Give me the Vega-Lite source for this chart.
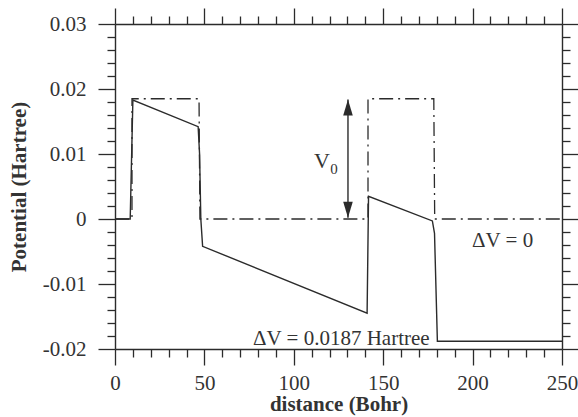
{
  "$schema": "https://vega.github.io/schema/vega-lite/v6.json",
  "width": 447,
  "height": 325,
  "autosize": "none",
  "padding": {"left": 115, "top": 24, "right": 16, "bottom": 68},
  "background": "white",
  "config": {
    "view": {"stroke": null},
    "axis": {
      "domainColor": "#2b2b2b",
      "domainWidth": 1.4,
      "tickColor": "#2b2b2b",
      "tickWidth": 1.3,
      "labelFont": "Liberation Serif",
      "labelFontSize": 21,
      "labelColor": "#333333",
      "titleFont": "Liberation Serif",
      "titleFontWeight": "bold",
      "titleFontSize": 21,
      "titleColor": "#333333",
      "grid": false
    }
  },
  "datasets": {
    "biased": [
      {"x": 0, "y": 0},
      {"x": 8.5, "y": 0},
      {"x": 10, "y": 0.0183},
      {"x": 46.5, "y": 0.0142},
      {"x": 47.3, "y": 0.01},
      {"x": 48, "y": 0},
      {"x": 49, "y": -0.0042},
      {"x": 141, "y": -0.0145},
      {"x": 141.8, "y": 0.0035},
      {"x": 177.5, "y": -0.0003},
      {"x": 178.7, "y": -0.0022},
      {"x": 180.3, "y": -0.0188},
      {"x": 250, "y": -0.0188}
    ],
    "flat": [
      {"x": 0, "y": 0},
      {"x": 9.5, "y": 0},
      {"x": 9.5, "y": 0.0185},
      {"x": 47, "y": 0.0185},
      {"x": 47.5, "y": 0},
      {"x": 141.5, "y": 0},
      {"x": 141.5, "y": 0.0185},
      {"x": 178.3, "y": 0.0185},
      {"x": 178.8, "y": 0},
      {"x": 250, "y": 0}
    ],
    "arrow": [{"x": 130.3, "y": 0.0002, "y2": 0.0184}],
    "heads": [
      {"x": 130.3, "y": 0.0184, "dir": "up"},
      {"x": 130.3, "y": 0.0002, "dir": "down"}
    ],
    "notes": [
      {"x": 77.2, "y": -0.0185, "text": "ΔV = 0.0187 Hartree"},
      {"x": 199.7, "y": -0.0034, "text": "ΔV = 0"}
    ],
    "vlabel": [{"x": 115.8, "y": 0.009, "text": "V"}],
    "vsub": [{"x": 122.5, "y": 0.0077, "text": "0"}]
  },
  "layer": [
    {
      "data": {"name": "biased"},
      "mark": {"type": "line", "color": "#2b2b2b", "strokeWidth": 1.4},
      "encoding": {
        "x": {
          "field": "x", "type": "quantitative",
          "scale": {"domain": [0, 250], "nice": false, "zero": false},
          "axis": {
            "orient": "bottom",
            "title": "distance  (Bohr)",
            "values": [0, 50, 100, 150, 200, 250],
            "ticks": true,
            "tickSize": 16,
            "labelAlign": "center",
            "labelPadding": 7,
            "titlePadding": 0
          }
        },
        "y": {
          "field": "y", "type": "quantitative",
          "scale": {"domain": [-0.02, 0.03], "nice": false, "zero": false},
          "axis": {
            "orient": "left",
            "title": "Potential  (Hartree)",
            "values": [-0.02, -0.01, 0, 0.01, 0.02, 0.03],
            "labelExpr": "round(datum.value*100) === 0 ? '0' : (datum.value < 0 ? '-' : '') + '0.0' + abs(round(datum.value*100))",
            "ticks": true,
            "tickSize": 17,
            "labelBaseline": "middle",
            "labelPadding": 12,
            "titlePadding": 13
          }
        }
      }
    },
    {
      "data": {"name": "flat"},
      "mark": {"type": "line", "color": "#2b2b2b", "strokeWidth": 1.3, "strokeDash": [14, 5, 2, 5]},
      "encoding": {
        "x": {
          "field": "x", "type": "quantitative",
          "axis": {
            "orient": "top",
            "title": null,
            "labels": false,
            "values": [0, 50, 100, 150, 200, 250],
            "ticks": true,
            "tickSize": 16
          }
        },
        "y": {
          "field": "y", "type": "quantitative",
          "axis": {
            "orient": "right",
            "title": null,
            "labels": false,
            "values": [-0.02, -0.01, 0, 0.01, 0.02, 0.03],
            "ticks": true,
            "tickSize": 17
          }
        }
      }
    },
    {
      "data": {"name": "arrow"},
      "mark": {"type": "rule", "color": "#2b2b2b", "strokeWidth": 1.4},
      "encoding": {
        "x": {
          "field": "x", "type": "quantitative",
          "axis": {
            "orient": "bottom",
            "title": null,
            "labels": false,
            "domain": false,
            "values": [10,20,30,40,60,70,80,90,110,120,130,140,160,170,180,190,210,220,230,240],
            "ticks": true,
            "tickSize": 8
          }
        },
        "y": {
          "field": "y", "type": "quantitative",
          "axis": {
            "orient": "left",
            "title": null,
            "labels": false,
            "domain": false,
            "values": [-0.018,-0.016,-0.014,-0.012,-0.008,-0.006,-0.004,-0.002,0.002,0.004,0.006,0.008,0.012,0.014,0.016,0.018,0.022,0.024,0.026,0.028],
            "ticks": true,
            "tickSize": 8
          }
        },
        "y2": {"field": "y2"}
      }
    },
    {
      "data": {"name": "heads"},
      "mark": {"type": "point", "filled": true, "color": "#2b2b2b", "opacity": 1, "size": 1024},
      "encoding": {
        "x": {
          "field": "x", "type": "quantitative",
          "axis": {
            "orient": "top",
            "title": null,
            "labels": false,
            "domain": false,
            "values": [10,20,30,40,60,70,80,90,110,120,130,140,160,170,180,190,210,220,230,240],
            "ticks": true,
            "tickSize": 8
          }
        },
        "y": {
          "field": "y", "type": "quantitative",
          "axis": {
            "orient": "right",
            "title": null,
            "labels": false,
            "domain": false,
            "values": [-0.018,-0.016,-0.014,-0.012,-0.008,-0.006,-0.004,-0.002,0.002,0.004,0.006,0.008,0.012,0.014,0.016,0.018,0.022,0.024,0.026,0.028],
            "ticks": true,
            "tickSize": 8
          }
        },
        "shape": {
          "field": "dir", "type": "nominal", "legend": null,
          "scale": {"domain": ["up", "down"], "range": ["M0,0L0.3,1L-0.3,1Z", "M0,0L0.3,-1L-0.3,-1Z"]}
        }
      }
    },
    {
      "data": {"name": "notes"},
      "mark": {"type": "text", "font": "Liberation Serif", "fontSize": 21, "color": "#333333", "align": "left", "baseline": "middle"},
      "encoding": {
        "x": {"field": "x", "type": "quantitative", "axis": null},
        "y": {"field": "y", "type": "quantitative", "axis": null},
        "text": {"field": "text"}
      }
    },
    {
      "data": {"name": "vlabel"},
      "mark": {"type": "text", "font": "Liberation Serif", "fontSize": 22, "color": "#333333", "align": "center", "baseline": "middle"},
      "encoding": {
        "x": {"field": "x", "type": "quantitative", "axis": null},
        "y": {"field": "y", "type": "quantitative", "axis": null},
        "text": {"field": "text"}
      }
    },
    {
      "data": {"name": "vsub"},
      "mark": {"type": "text", "font": "Liberation Serif", "fontSize": 15, "color": "#333333", "align": "center", "baseline": "middle"},
      "encoding": {
        "x": {"field": "x", "type": "quantitative", "axis": null},
        "y": {"field": "y", "type": "quantitative", "axis": null},
        "text": {"field": "text"}
      }
    }
  ],
  "resolve": {"axis": {"x": "independent", "y": "independent"}}
}
